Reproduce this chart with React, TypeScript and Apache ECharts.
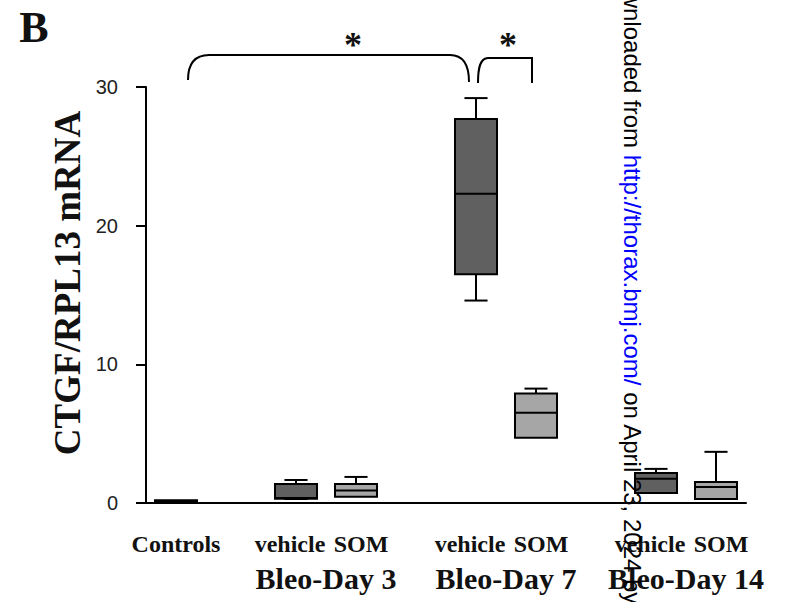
import React, { useEffect, useRef } from "react";
import * as echarts from "echarts";

// ---- data ----
const categories = ["Controls", "", "vehicle", "SOM", "", "vehicle", "SOM", "", "vehicle", "SOM"];
const boxSlots = [0, 2, 3, 5, 6, 8, 9];
const boxGroups = [0, 1, 2, 1, 2, 1, 2]; // 0 = controls, 1 = vehicle, 2 = SOM
const mins = [0.0, 0.29, 0.45, 14.6, 4.7, 0.72, 0.29];
const q1s = [0.0, 0.3, 0.45, 16.5, 4.7, 0.72, 0.29];
const medians = [0.1, 0.36, 0.9, 22.3, 6.5, 1.74, 1.16];
const q3s = [0.2, 1.37, 1.37, 27.7, 7.9, 2.17, 1.52];
const maxs = [0.2, 1.66, 1.88, 29.2, 8.25, 2.46, 3.69];
const groupLabels = ["Bleo-Day 3", "Bleo-Day 7", "Bleo-Day 14"];
const groupSlots = [[2, 3], [5, 6], [8, 9]];
const yMin = 0;
const yMax = 30;
const yStep = 10;
const yTitle = "CTGF/RPL13 mRNA";
const panelLetter = "B";
const sigMarks = ["*", "*"];
const watermarkParts = ["Downloaded from ", "http://thorax.bmj.com/", " on April 23, 2024 by"];

const fills = ["#000000", "#606060", "#a6a6a6"];

export default function App() {
  const ref = useRef<HTMLDivElement>(null);

  useEffect(() => {
    document.body.style.margin = "0";
    if (!ref.current) return;
    const chart = echarts.init(ref.current, null, { renderer: "svg" });

    const rows = boxSlots.map((s, i) => [s, mins[i], q1s[i], medians[i], q3s[i], maxs[i], boxGroups[i]]);

    const labelFont = { fontFamily: "Liberation Serif", fontWeight: "bold", fontSize: 24, color: "#111" };

    chart.setOption({
      animation: false,
      backgroundColor: "#ffffff",
      grid: { left: 146, right: 40, top: 87, bottom: 99, containLabel: false },
      xAxis: {
        type: "category",
        data: categories,
        offset: 6,
        axisLine: { show: true, lineStyle: { color: "#000", width: 2 } },
        axisTick: { show: false },
        axisLabel: {
          interval: 0,
          margin: 23,
          ...labelFont,
          formatter: (v: string) => (v === "vehicle" ? `{v|${v}}` : v === "SOM" ? `{s|${v}}` : v),
          rich: {
            v: { ...labelFont, padding: [0, 12, 0, 0] },
            s: { ...labelFont, padding: [0, 0, 0, 10] },
          },
        },
        splitLine: { show: false },
      },
      yAxis: {
        type: "value",
        min: yMin,
        max: yMax,
        interval: yStep,
        axisLine: { show: true, lineStyle: { color: "#000", width: 2 } },
        axisTick: { show: true, inside: false, length: 10, lineStyle: { color: "#000", width: 2 } },
        axisLabel: {
          margin: 28,
          color: "#222",
          fontFamily: "Liberation Sans",
          fontSize: 20,
        },
        splitLine: { show: false },
      },
      series: [
        {
          type: "custom",
          data: rows,
          encode: { x: 0, y: [1, 2, 3, 4, 5] },
          renderItem: (params: any, api: any) => {
            const x = api.value(0);
            const mn = api.value(1);
            const q1 = api.value(2);
            const md = api.value(3);
            const q3 = api.value(4);
            const mx = api.value(5);
            const g = api.value(6);
            const band = api.size([1, 0])[0];
            const bw = band * 0.7;
            const cap = bw * 0.55;
            const pMax = api.coord([x, mx]);
            const pQ3 = api.coord([x, q3]);
            const pMed = api.coord([x, md]);
            const pQ1 = api.coord([x, q1]);
            const pMin = api.coord([x, mn]);
            const cx = pMed[0];
            const ls = { stroke: "#000", lineWidth: 2 };
            const children: any[] = [];
            if (mx > q3) {
              children.push({ type: "line", shape: { x1: cx, y1: pMax[1], x2: cx, y2: pQ3[1] }, style: ls });
              children.push({ type: "line", shape: { x1: cx - cap / 2, y1: pMax[1], x2: cx + cap / 2, y2: pMax[1] }, style: ls });
            }
            if (mn < q1) {
              children.push({ type: "line", shape: { x1: cx, y1: pMin[1], x2: cx, y2: pQ1[1] }, style: ls });
              children.push({ type: "line", shape: { x1: cx - cap / 2, y1: pMin[1], x2: cx + cap / 2, y2: pMin[1] }, style: ls });
            }
            children.push({
              type: "rect",
              shape: { x: cx - bw / 2, y: pQ3[1], width: bw, height: pQ1[1] - pQ3[1] },
              style: { fill: fills[g], stroke: "#000", lineWidth: 2 },
            });
            children.push({ type: "line", shape: { x1: cx - bw / 2, y1: pMed[1], x2: cx + bw / 2, y2: pMed[1] }, style: ls });
            return { type: "group", children };
          },
        },
      ],
    });

    echarts.graphic.registerShape(
      "bracketLong",
      echarts.graphic.extendPath("M188 80 C188 64 195 55 209 55 L450 55 C462 55 469 64 469 82", {})
    );
    echarts.graphic.registerShape(
      "bracketShort",
      echarts.graphic.extendPath("M478 83 C478 68 480 58 488 58 L532 58 L532 83", {})
    );

    const groupEls = groupLabels.map((lab, i) => {
      const a = chart.convertToPixel({ xAxisIndex: 0 }, groupSlots[i][0]) as number;
      const b = chart.convertToPixel({ xAxisIndex: 0 }, groupSlots[i][1]) as number;
      return {
        type: "text",
        x: (a + b) / 2,
        y: 578,
        style: {
          text: lab,
          fill: "#111",
          font: 'bold 30px "Liberation Serif"',
          align: "center",
          verticalAlign: "middle",
        },
      };
    });

    chart.setOption({
      graphic: [
        {
          type: "text",
          x: 34,
          y: 27,
          style: { text: panelLetter, fill: "#111", font: 'bold 44px "Liberation Serif"', align: "center", verticalAlign: "middle" },
        },
        {
          type: "text",
          x: 67,
          y: 283,
          rotation: Math.PI / 2,
          style: { text: yTitle, fill: "#111", font: 'bold 37px "Liberation Serif"', align: "center", verticalAlign: "middle" },
        },
        { type: "bracketLong", x: 0, y: 0, style: { fill: "none", stroke: "#000", lineWidth: 2 } },
        { type: "bracketShort", x: 0, y: 0, style: { fill: "none", stroke: "#000", lineWidth: 2 } },
        {
          type: "text",
          x: 353,
          y: 45,
          style: { text: sigMarks[0], fill: "#111", font: 'bold 36px "Liberation Serif"', align: "center", verticalAlign: "middle" },
        },
        {
          type: "text",
          x: 508,
          y: 45,
          style: { text: sigMarks[1], fill: "#111", font: 'bold 36px "Liberation Serif"', align: "center", verticalAlign: "middle" },
        },
        ...groupEls,
        {
          type: "text",
          x: 632,
          y: -40,
          z: 100,
          rotation: -Math.PI / 2,
          style: {
            text: `{k|${watermarkParts[0]}}{u|${watermarkParts[1]}}{k|${watermarkParts[2]}}`,
            font: '24px "Liberation Sans"',
            align: "left",
            verticalAlign: "middle",
            rich: {
              k: { fill: "#000", fontSize: 24, fontFamily: "Liberation Sans" },
              u: { fill: "#0000ff", fontSize: 24, fontFamily: "Liberation Sans" },
            },
          },
        },
      ],
    });

    return () => chart.dispose();
  }, []);

  return <div ref={ref} style={{ width: 786, height: 602 }} />;
}
